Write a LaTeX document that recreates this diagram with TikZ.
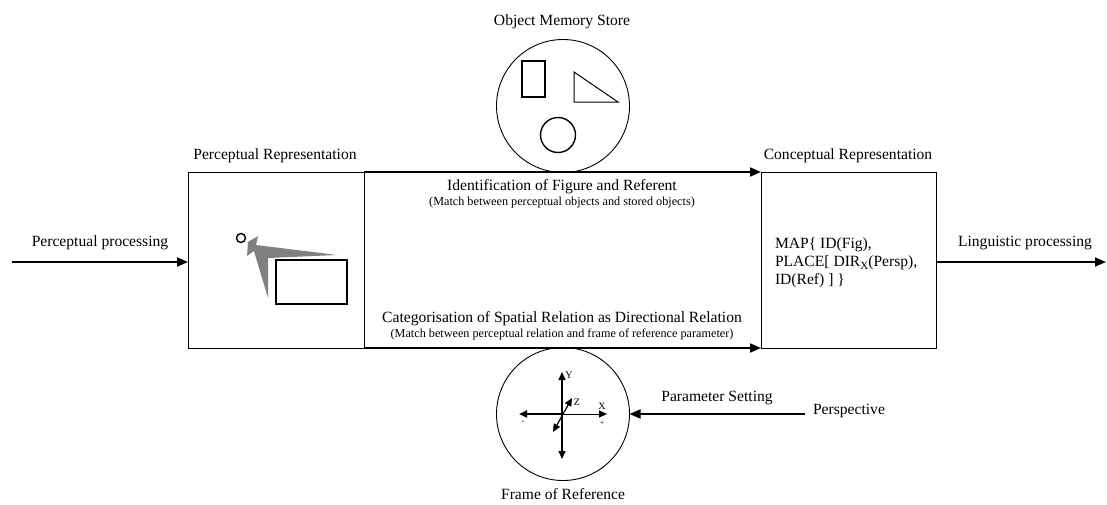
\documentclass[tikz,border=0pt]{standalone}
\usepackage{fontspec}
\setmainfont{Liberation Serif}
\usetikzlibrary{arrows.meta}
\definecolor{arrowgray}{RGB}{128,128,128}
\tikzset{
  every node/.style={inner sep=0pt, outer sep=0pt},
  lbl/.style={font=\fontsize{15.6}{18}\selectfont},
  note/.style={font=\fontsize{12.2}{13}\selectfont},
  panel/.style={draw, line width=0.9pt, minimum width=176pt, minimum height=176pt},
  store/.style={draw, circle, line width=0.9pt, minimum size=133pt},
  flow/.style={line width=1.8pt, -{Triangle[length=11pt,width=9pt]}},
  axisline/.style={line width=1.2pt},
  axtip/.style={-{Triangle[length=8pt,width=7pt]}},
  axtips/.style={{Triangle[length=8pt,width=7pt]}-{Triangle[length=8pt,width=7pt]}},
  glyph/.style={line width=1.4pt},
}
\begin{document}
\begin{tikzpicture}[x=1pt,y=-1pt]
\useasboundingbox (0,0) rectangle (1107,504);

% main boxes
\node[panel] (perc) at (276,260) {};
\node[panel, minimum width=175pt] (conc) at (848.5,260) {};
\node[lbl] (percT) at (275,156) {Perceptual Representation};
\node[lbl] (concT) at (848,156) {Conceptual Representation};

% stores
\node[store] (oms) at (563,106) {};
\node[store] (for) at (563,414) {};
\node[lbl] (omsT) at (562,22) {Object Memory Store};
\node[lbl] (forT) at (563,494) {Frame of Reference};

% matching stages
\draw[flow] (perc.north east) -- (conc.north west);
\draw[flow] (perc.south east) -- (conc.south west);
\node[lbl] (idT) at (562,187) {Identification of Figure and Referent};
\node[note] (idN) at (562,203) {(Match between perceptual objects and stored objects)};
\node[lbl] (catT) at (562,319) {Categorisation of Spatial Relation as Directional Relation};
\node[note] (catN) at (562,334) {(Match between perceptual relation and frame of reference parameter)};

% input and output
\coordinate (pin) at (12,262);
\coordinate (lout) at (1106,262);
\draw[flow] (pin) -- (pin -| perc.west);
\draw[flow] (lout -| conc.east) -- (lout);
\node[lbl] (pinT) at (100,243) {Perceptual processing};
\node[lbl] (loutT) at (1025,243) {Linguistic processing};

% perspective parameter
\coordinate (persp) at (805,414);
\draw[flow] (persp) -- (for.east);
\node[lbl] (parT) at (717,398) {Parameter Setting};
\node[lbl, anchor=west] (perspT) at (813,411) {Perspective};

% conceptual structure
\node[lbl, anchor=west, align=left] (map) at (775,263)
  {MAP\{ ID(Fig),\\PLACE[ DIR\raisebox{-2.5pt}{\fontsize{11}{11}\selectfont X}(Persp),\\ID(Ref) ] \}};

% perceived scene: figure, referent and the direction between them
\fill[arrowgray] (248,242) -- (258,236) -- (256,245) -- (337,255) -- (268,258)
  -- (268,298) -- (254,251) -- (247,256) -- cycle;
\draw[glyph] (241,238) circle (4.5pt);
\draw[glyph] (276,260) rectangle (347,304);

% stored objects
\draw[glyph] (522,61) rectangle (545,97);
\draw[line width=1pt] (574,72) -- (574,102) -- (618,102) -- cycle;
\draw[glyph] (558,135) circle (17.5pt);

% reference axes
\coordinate (o) at (562,414);
\draw[line width=2pt, axtip] (o) -- (519,414);
\draw[line width=0.8pt, axtip] (o) -- (607,414);
\draw[axisline, axtips] (562,459) -- (562,372);
\draw[axisline, axtips] (553,432) -- (572,398);
\node[font=\fontsize{10}{10}\selectfont] (yL) at (569,375) {Y};
\node[font=\fontsize{10}{10}\selectfont] (zL) at (577,402) {Z};
\node[font=\fontsize{10}{10}\selectfont] (xL) at (602,406) {X};
\node[font=\fontsize{8}{8}\selectfont] (mL) at (523,422) {-};
\node[font=\fontsize{8}{8}\selectfont] (pL) at (602,423) {+};
\end{tikzpicture}
\end{document}
